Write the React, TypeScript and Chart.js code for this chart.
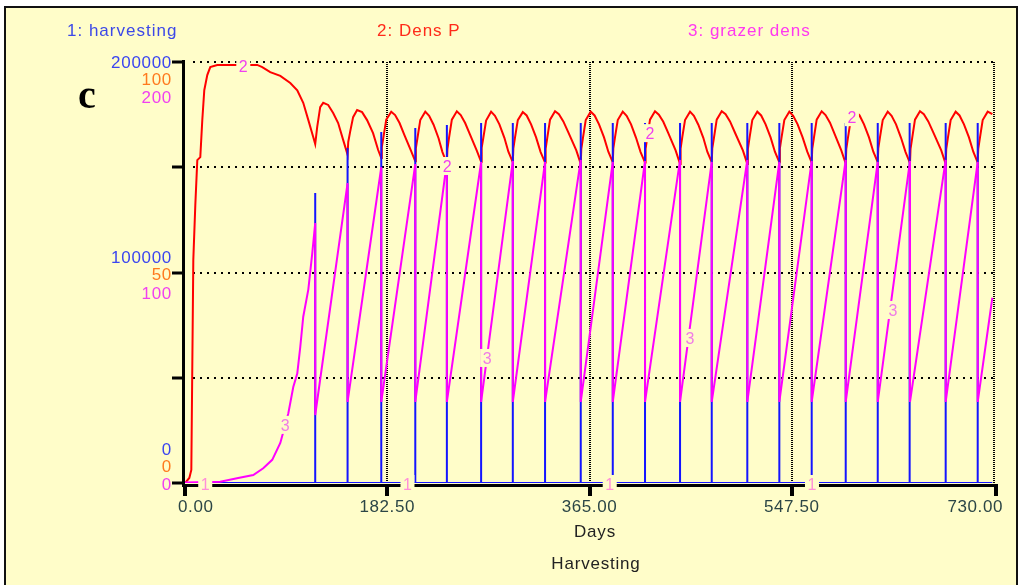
import React, { useEffect, useRef } from 'react';
import { Chart, registerables } from 'chart.js';

Chart.register(...registerables);

// ---------- axes / ticks ----------
const xTickDays = [0, 182.5, 365, 547.5, 730];
const xTickLabels = ['0.00', '182.50', '365.00', '547.50', '730.00'];
const harvestTickValues = [0, 100000, 200000];
const harvestTickLabels = ['0', '100000', '200000'];
const densTickValues = [0, 50, 100];
const densTickLabels = ['0', '50', '100'];
const grazerTickValues = [0, 100, 200];
const grazerTickLabels = ['0', '100', '200'];
const gridGrazerValues = [50, 100, 150, 200];
const xAxisTitle = 'Days';
const chartTitle = 'Harvesting';
const panelLetter = 'c';
const legendItems = ['1: harvesting', '2: Dens P', '3: grazer dens'];
const endDay = 728.5;

// ---------- 1: harvesting (spikes) ----------
const harvestDays = [117.5, 146.7, 177.1, 207.8, 236.3, 267.2, 295.8, 324.9, 357.1, 386.0, 415.1, 446.7, 475.3, 507.4, 536.3, 565.5, 596.2, 625.1, 654.2, 686.4, 715.3];
const harvestAmounts = [137800, 159100, 166700, 168600, 170100, 171000, 171000, 171000, 171000, 171000, 171000, 171000, 171000, 171000, 171000, 171000, 171000, 171000, 171000, 171000, 171000];
const extraHarvestDays = [653.4];
const extraHarvestAmounts = [111000];

// ---------- 3: grazer dens ----------
const grazerEarly: [number, number][] = [
  [0, 0.2], [31.8, 0.6], [48, 2.4], [61.6, 3.8], [70.6, 7], [78.7, 11], [86, 19], [93.2, 33],
  [97.7, 45.6], [101.3, 52], [104, 64.6], [106.7, 79], [111.3, 92], [114.8, 109],
];
const grazerTops = [123.5, 142.5, 150, 151.5, 152.5, 152.5, 153, 152.5, 153.5, 152.5, 153, 153.5, 152.5, 153.5, 152.5, 153, 153.5, 152.5, 153, 153.5, 152.5];
const grazerBottoms = [32.3, 38.5, 38.5, 38.5, 38.5, 38.5, 38.5, 38.5, 38.5, 38.5, 38.5, 38.5, 38.5, 38.5, 38.5, 38.5, 38.5, 38.5, 38.5, 38.5, 38.5];
const grazerEnd: [number, number] = [728.5, 88];

// ---------- 2: Dens P ----------
const densP: [number, number][] = [
  [0, 0], [3.9, 1.2], [5.7, 3.1], [7.5, 53], [9.3, 66], [11.1, 76.7], [13.8, 77.4], [15.6, 86.2], [17.4, 93.3],
  [20.1, 96.9], [22.8, 98.8], [29.1, 99.3], [65.2, 99.3], [69.7, 98.8], [76.9, 97.6], [86, 96.7], [95, 95],
  [101.3, 93.3], [106.7, 90.3], [111.3, 86.2], [115.7, 82.2], [117.5, 80.5],
  [119.3, 84.6], [122, 89.3], [124.7, 90.3], [129.2, 89.8], [133.7, 87.9], [138.2, 85.5], [142.7, 81.5], [146.7, 78.0],
  [147.3, 81], [149, 83.4], [151.7, 86.9], [155.3, 88.6], [159.8, 88.1], [164.3, 86.2], [169.7, 83.1], [174.3, 79.1],
  [177.1, 77.2], [177.6, 79.8], [179.1, 82.2], [181.6, 86.3], [186.1, 88.2], [189.6, 87.4], [193.6, 85.5], [198.1, 82.6], [203.8, 79.0],
  [207.8, 76.4], [208.3, 79.5], [209.8, 82], [212.3, 86.2], [216.8, 88.2], [220.3, 87.2], [224.3, 85.1], [228.8, 81.9], [232.3, 78.6],
  [236.3, 75.9], [236.8, 79.3], [238.3, 82.1], [240.8, 86.3], [245.3, 88.3], [248.8, 87.4], [252.8, 85.5], [257.3, 82.7], [263.2, 79.0],
  [267.2, 76.3], [267.7, 79.6], [269.2, 82], [271.7, 86.1], [276.2, 88.2], [279.7, 87.2], [283.7, 85.2], [288.2, 82.0], [291.8, 78.7],
  [295.8, 76.2], [296.3, 79.5], [297.8, 82.1], [300.3, 86.2], [304.8, 88.1], [308.3, 87.3], [312.3, 85.2], [316.8, 82.1], [320.9, 78.6],
  [324.9, 76.1], [325.4, 79.4], [326.9, 82], [329.4, 86.3], [333.9, 88.3], [337.4, 87.6], [341.4, 85.9], [345.9, 83.3], [353.1, 79.0],
  [357.1, 75.8], [357.6, 79.3], [359.1, 82], [361.6, 86.2], [366.1, 88.2], [369.6, 87.3], [373.6, 85.2], [378.1, 82.1], [382.0, 78.7],
  [386.0, 76.2], [386.5, 79.5], [388.0, 82.1], [390.5, 86.2], [395.0, 88.2], [398.5, 87.2], [402.5, 85.2], [407.0, 82.0], [411.1, 78.6],
  [415.1, 76.1], [415.6, 79.4], [417.1, 82], [419.6, 86.3], [424.1, 88.3], [427.6, 87.5], [431.6, 85.8], [436.1, 83.1], [442.7, 79.0],
  [446.7, 75.8], [447.2, 79.4], [448.7, 82.1], [451.2, 86.2], [455.7, 88.2], [459.2, 87.2], [463.2, 85.1], [467.7, 82.0], [471.3, 78.7],
  [475.3, 76.2], [475.8, 79.5], [477.3, 82], [479.8, 86.3], [484.3, 88.3], [487.8, 87.6], [491.8, 85.9], [496.3, 83.2], [503.4, 79.0],
  [507.4, 75.8], [507.9, 79.3], [509.4, 82], [511.9, 86.2], [516.4, 88.2], [519.9, 87.3], [523.9, 85.2], [528.4, 82.1], [532.3, 78.7],
  [536.3, 76.2], [536.8, 79.5], [538.3, 82.1], [540.8, 86.2], [545.3, 88.2], [548.8, 87.2], [552.8, 85.2], [557.3, 82.1], [561.5, 78.7],
  [565.5, 76.1], [566.0, 79.4], [567.5, 82], [570.0, 86.3], [574.5, 88.3], [578.0, 87.4], [582.0, 85.6], [586.5, 82.7], [592.2, 79.0],
  [596.2, 75.9], [596.7, 79.3], [598.2, 82], [600.7, 86.2], [605.2, 88.2], [608.7, 87.3], [612.7, 85.2], [617.2, 82.1], [621.1, 78.7],
  [625.1, 76.2], [625.6, 79.5], [627.1, 82.1], [629.6, 86.2], [634.1, 88.2], [637.6, 87.2], [641.6, 85.2], [646.1, 82.0], [650.2, 78.6],
  [654.2, 76.0], [654.7, 79.4], [656.2, 82], [658.7, 86.3], [663.2, 88.3], [666.7, 87.6], [670.7, 85.9], [675.2, 83.3], [682.4, 79.0],
  [686.4, 75.8], [686.9, 79.3], [688.4, 82], [690.9, 86.2], [695.4, 88.2], [698.9, 87.3], [702.9, 85.2], [707.4, 82.1], [711.3, 78.7],
  [715.3, 76.1], [715.8, 79.4], [717.3, 82], [719.8, 86.2], [724.3, 88.2], [728.5, 87.6],
];

// ---------- curve number labels ----------
const curveLabel1Days = [18.25, 200.75, 383.25, 565.75];
const curveLabel2: [number, number][] = [[52.6, 99], [236.6, 75.3], [419.6, 83.1], [601.8, 86.9]];
const curveLabel3: [number, number][] = [[90.5, 27.6], [272.6, 59.4], [455.7, 68.9], [638.8, 82.2]];

// ---------- styles ----------
const BG = '#fffdc9';
const BLUE = '#1414ff';
const RED = '#ff0000';
const MAGENTA = '#ff00ff';
const SANS = '"Liberation Sans", Arial, sans-serif';

function drawText(ctx: CanvasRenderingContext2D, s: string, x: number, y: number, color: string, font: string, align: CanvasTextAlign, spacing = 0) {
  ctx.font = font;
  ctx.fillStyle = color;
  ctx.textAlign = align;
  ctx.textBaseline = 'alphabetic';
  (ctx as any).letterSpacing = spacing + 'px';
  ctx.fillText(s, x, y);
  (ctx as any).letterSpacing = '0px';
}

const stellaPlugin = {
  id: 'stella',
  beforeDraw(chart: any) {
    const ctx: CanvasRenderingContext2D = chart.ctx;
    ctx.save();
    ctx.fillStyle = '#ffffff';
    ctx.fillRect(0, 0, chart.width, chart.height);
    ctx.fillStyle = BG;
    ctx.fillRect(5, 8, 1011, chart.height - 8);
    ctx.fillStyle = '#111111';
    ctx.fillRect(4, 6, 1014, 2);
    ctx.fillRect(4, 6, 2, chart.height - 6);
    ctx.fillRect(1016, 6, 2, chart.height - 6);
    ctx.restore();
  },
  beforeDatasetsDraw(chart: any) {
    const ctx: CanvasRenderingContext2D = chart.ctx;
    const xs = chart.scales.x;
    const yG = chart.scales.yG;
    const yH = chart.scales.yH;
    const yP = chart.scales.yP;
    const { left, right, top, bottom } = chart.chartArea;
    ctx.save();
    // horizontal dotted grid
    ctx.fillStyle = '#000000';
    gridGrazerValues.forEach((v) => {
      const y = Math.round(yG.getPixelForValue(v));
      for (let px = left + 8; px < right - 2; px += 7) ctx.fillRect(px, y - 1, 2, 2);
    });
    // vertical dotted grid
    xTickDays.slice(1).forEach((d) => {
      const x = Math.round(xs.getPixelForValue(d));
      for (let py = top; py < bottom; py += 2) ctx.fillRect(x - 1, py, 2, 1);
    });
    // axes
    ctx.fillStyle = '#000000';
    ctx.fillRect(182, top - 2, 3, bottom - top + 6);
    ctx.fillRect(182, bottom + 1, right - 182 + 4, 3);
    grazerTickValues.concat([50, 150]).forEach((v) => {
      const y = Math.round(yG.getPixelForValue(v));
      ctx.fillRect(172, y - 1.5, 11, 3);
    });
    xTickDays.forEach((d, i) => {
      const x = Math.round(xs.getPixelForValue(d));
      const xx = i === xTickDays.length - 1 ? x : x - 2;
      ctx.fillRect(xx, bottom + 1, 4, 12);
    });
    // x tick labels
    const tickFont = '17px ' + SANS;
    xTickLabels.forEach((s, i) => {
      const x = xs.getPixelForValue(xTickDays[i]);
      ctx.font = tickFont;
      (ctx as any).letterSpacing = '0.6px';
      const w = ctx.measureText(s).width;
      let l = x - w / 2;
      if (l < 178) l = 178;
      if (l + w > 1003) l = 1003 - w;
      drawText(ctx, s, l, 512, '#2c4646', tickFont, 'left', 0.6);
    });
    // y tick labels: three stacked colours per tick
    const stackOffsets = [[-34, -17, 1], [-16, 1, 20], [0, 17, 35]];
    const yFont = '17px ' + SANS;
    for (let i = 0; i < 3; i++) {
      const gy = yH.getPixelForValue(harvestTickValues[i]);
      const py = yP.getPixelForValue(densTickValues[i]);
      const my = yG.getPixelForValue(grazerTickValues[i]);
      drawText(ctx, harvestTickLabels[i], 172, gy + stackOffsets[i][0] + 6, '#3b45f0', yFont, 'right', 0.7);
      drawText(ctx, densTickLabels[i], 172, py + stackOffsets[i][1] + 6, '#ff7a1e', yFont, 'right', 0.7);
      drawText(ctx, grazerTickLabels[i], 172, my + stackOffsets[i][2] + 6, '#f040f0', yFont, 'right', 0.7);
    }
    // titles and legend
    drawText(ctx, xAxisTitle, 595, 537, '#222222', '17px ' + SANS, 'center', 0.8);
    drawText(ctx, chartTitle, 596, 569, '#222222', '17px ' + SANS, 'center', 0.8);
    drawText(ctx, legendItems[0], 67, 36, '#3c48e8', '17px ' + SANS, 'left', 1);
    drawText(ctx, legendItems[1], 377, 36, '#ff2a1a', '17px ' + SANS, 'left', 1);
    drawText(ctx, legendItems[2], 688, 36, '#ff38f0', '17px ' + SANS, 'left', 1);
    drawText(ctx, panelLetter, 78, 108, '#000000', 'bold 40px "Liberation Serif", "Times New Roman", serif', 'left', 0);
    ctx.restore();
  },
  afterDatasetsDraw(chart: any) {
    const ctx: CanvasRenderingContext2D = chart.ctx;
    const xs = chart.scales.x;
    const yG = chart.scales.yG;
    const yP = chart.scales.yP;
    const yH = chart.scales.yH;
    ctx.save();
    const font = '16px ' + SANS;
    const put = (s: string, x: number, y: number, color: string) => {
      ctx.fillStyle = BG;
      ctx.fillRect(x - 7, y - 9, 14, 18);
      drawText(ctx, s, x, y + 6, color, font, 'center', 0);
    };
    curveLabel1Days.forEach((d) => put('1', xs.getPixelForValue(d), yH.getPixelForValue(0) + 1, '#ff8fd8'));
    curveLabel2.forEach(([d, v]) => put('2', xs.getPixelForValue(d), yP.getPixelForValue(v), '#f040f0'));
    curveLabel3.forEach(([d, v]) => put('3', xs.getPixelForValue(d), yG.getPixelForValue(v), '#f07ce6'));
    ctx.restore();
  },
};

export default function App() {
  const ref = useRef<HTMLCanvasElement | null>(null);
  useEffect(() => {
    if (!ref.current) return;
    const harvestPts: { x: number; y: number }[] = [{ x: 0, y: 0 }];
    const spikes = harvestDays
      .map((d, i) => [d, harvestAmounts[i]] as [number, number])
      .concat(extraHarvestDays.map((d, i) => [d, extraHarvestAmounts[i]] as [number, number]))
      .sort((a, b) => a[0] - b[0]);
    spikes.forEach(([d, h]) => {
      harvestPts.push({ x: d, y: 0 }, { x: d, y: h }, { x: d, y: 0 });
    });
    harvestPts.push({ x: endDay, y: 0 });

    const grazerPts = grazerEarly.map(([x, y]) => ({ x, y }));
    harvestDays.forEach((d, i) => {
      grazerPts.push({ x: d, y: grazerTops[i] }, { x: d, y: grazerBottoms[i] });
    });
    grazerPts.push({ x: grazerEnd[0], y: grazerEnd[1] });

    const densPts = densP.map(([x, y]) => ({ x, y }));

    const common = { showLine: true, pointRadius: 0, pointHoverRadius: 0, borderWidth: 2, tension: 0, fill: false };
    const chart = new Chart(ref.current, {
      type: 'scatter',
      data: {
        datasets: [
          { ...common, label: '3: grazer dens', data: grazerPts, borderColor: MAGENTA, yAxisID: 'yG' },
          { ...common, label: '1: harvesting', data: harvestPts, borderColor: BLUE, yAxisID: 'yH' },
          { ...common, label: '2: Dens P', data: densPts, borderColor: RED, yAxisID: 'yP' },
        ],
      } as any,
      options: {
        animation: false,
        responsive: false,
        events: [],
        layout: { padding: { left: 185, right: 26, top: 62, bottom: 102 } },
        plugins: { legend: { display: false }, tooltip: { enabled: false } },
        scales: {
          x: { type: 'linear', min: 0, max: 730, display: false },
          yH: { type: 'linear', min: 0, max: 200000, display: false },
          yP: { type: 'linear', min: 0, max: 100, display: false },
          yG: { type: 'linear', min: 0, max: 200, display: false },
        },
      } as any,
      plugins: [stellaPlugin as any],
    });
    return () => chart.destroy();
  }, []);
  return (
    <div style={{ position: 'fixed', left: 0, top: 0, width: 1020, height: 585, background: '#fff' }}>
      <canvas ref={ref} width={1020} height={585} style={{ display: 'block', width: 1020, height: 585 }} />
    </div>
  );
}
